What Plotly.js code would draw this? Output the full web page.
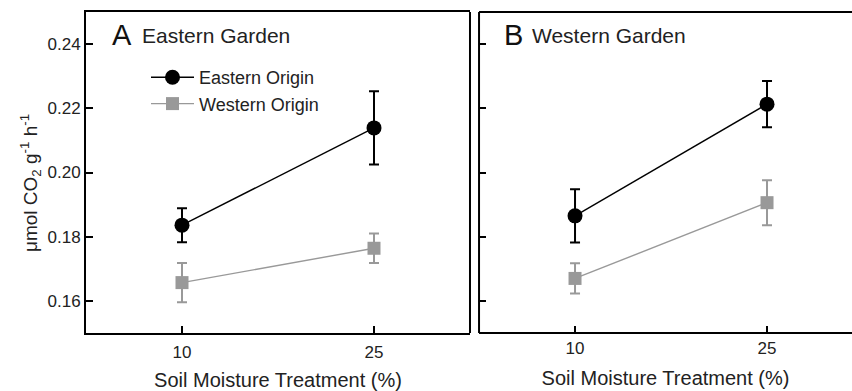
<!DOCTYPE html>
<html>
<head>
<meta charset="utf-8">
<script src="https://cdn.plot.ly/plotly-3.0.1.min.js"></script>
<style>html,body{margin:0;padding:0;background:#fff;}#chart{width:852px;height:391px;}</style>
</head>
<body>
<div id="chart"></div>
<script>
var moisture = [10, 25];
var eastA = [0.1836, 0.2139];
var eastAerr = [0.0053, 0.0114];
var westA = [0.1657, 0.1764];
var westAerr = [0.0061, 0.0046];
var eastB = [0.1865, 0.2213];
var eastBerr = [0.0083, 0.0072];
var westB = [0.1670, 0.1906];
var westBerr = [0.0047, 0.0070];
var yTicks = [0.16, 0.18, 0.20, 0.22, 0.24];
var yTickText = ['0.16', '0.18', '0.20', '0.22', '0.24'];

var black = '#000000', gray = '#999999';
var FONT = 'Liberation Sans, Arial, sans-serif';

function tr(y, err, name, color, symbol, size, xa, ya, show) {
  return {
    x: moisture, y: y, name: name, xaxis: xa, yaxis: ya, showlegend: show,
    mode: 'lines+markers', type: 'scatter',
    line: {color: color, width: 1.4},
    marker: {color: color, symbol: symbol, size: size},
    error_y: {type: 'data', array: err, visible: true, color: color, thickness: 2, width: 5}
  };
}

var data = [
  tr(eastA, eastAerr, 'Eastern Origin', black, 'circle', 15, 'x', 'y', true),
  tr(westA, westAerr, 'Western Origin', gray, 'square', 13, 'x', 'y', true),
  tr(eastB, eastBerr, 'Eastern Origin', black, 'circle', 15, 'x2', 'y2', false),
  tr(westB, westBerr, 'Western Origin', gray, 'square', 13, 'x2', 'y2', false)
];

var common = {showgrid: false, zeroline: false, showline: true, linecolor: '#000', linewidth: 2,
  ticks: 'inside', ticklen: 7, tickwidth: 2, tickcolor: '#000',
  tickfont: {family: FONT, size: 17, color: '#222'}};

function ax(extra) { return Object.assign({}, common, extra); }

var TITLEFONT = {family: FONT, size: 20, color: '#222'};
var yLab = (333 - 35) / 321;
var bLeft = 0.5131, aRight = 0.5013;

var layout = {
  width: 852, height: 391,
  margin: {l: 86, r: 0, t: 12, b: 58},
  paper_bgcolor: '#fff', plot_bgcolor: '#fff',
  font: {family: FONT, color: '#222'},
  xaxis: ax({domain: [0, aRight], range: [2.5, 32.5], tickvals: moisture, mirror: true, anchor: 'y',
    ticklabelstandoff: 3,
    title: {text: 'Soil Moisture Treatment (%)', font: TITLEFONT, standoff: 13}}),
  yaxis: ax({range: [0.15, 0.25], tickvals: yTicks, ticktext: yTickText, mirror: false, anchor: 'x'}),
  xaxis2: ax({domain: [bLeft, 1], range: [2.5, 31.64], tickvals: moisture, showline: false, anchor: 'y2',
    ticklabelstandoff: 3,
    title: {text: 'Soil Moisture Treatment (%)', font: TITLEFONT, standoff: 13}}),
  yaxis2: ax({range: [0.15, 0.25], tickvals: yTicks, showticklabels: false, showline: false, anchor: 'x2'}),
  showlegend: true,
  legend: {x: (146 - 86) / 766, y: (333 - 59) / 321, xanchor: 'left', yanchor: 'top', bgcolor: 'rgba(0,0,0,0)',
    font: {family: FONT, size: 18, color: '#222'}, itemwidth: 43},
  shapes: [
    {type: 'line', xref: 'paper', yref: 'paper', x0: aRight, x1: aRight, y0: 0, y1: 1, line: {color: '#000', width: 2}},
    {type: 'line', xref: 'paper', yref: 'paper', x0: bLeft, x1: bLeft, y0: 0, y1: 1, line: {color: '#000', width: 2}},
    {type: 'line', xref: 'paper', yref: 'paper', x0: bLeft, x1: 1.01, y0: 0, y1: 0, line: {color: '#000', width: 2}},
    {type: 'line', xref: 'paper', yref: 'paper', x0: bLeft, x1: 1.01, y0: 1, y1: 1, line: {color: '#000', width: 2}}
  ],
  annotations: [
    {xref: 'paper', yref: 'paper', x: (31 - 86) / 766, y: (333 - 183) / 321, xanchor: 'center', yanchor: 'middle',
      text: 'μmol CO<sub>2</sub> g<sup>-1</sup> h<sup>-1</sup>',
      textangle: -90, showarrow: false, font: {family: FONT, size: 19, color: '#222'}},
    {xref: 'paper', yref: 'paper', x: (110 - 86) / 766, y: yLab, xanchor: 'left', yanchor: 'middle',
      text: 'A', showarrow: false, font: {family: FONT, size: 29, color: '#111'}},
    {xref: 'paper', yref: 'paper', x: (140 - 86) / 766, y: yLab, xanchor: 'left', yanchor: 'middle',
      text: 'Eastern Garden', showarrow: false, font: {family: FONT, size: 21, color: '#222'}},
    {xref: 'paper', yref: 'paper', x: (502 - 86) / 766, y: yLab, xanchor: 'left', yanchor: 'middle',
      text: 'B', showarrow: false, font: {family: FONT, size: 29, color: '#111'}},
    {xref: 'paper', yref: 'paper', x: (530 - 86) / 766, y: yLab, xanchor: 'left', yanchor: 'middle',
      text: 'Western Garden', showarrow: false, font: {family: FONT, size: 21, color: '#222'}}
  ]
};

Plotly.newPlot('chart', data, layout, {staticPlot: true, displayModeBar: false});
</script>
</body>
</html>
